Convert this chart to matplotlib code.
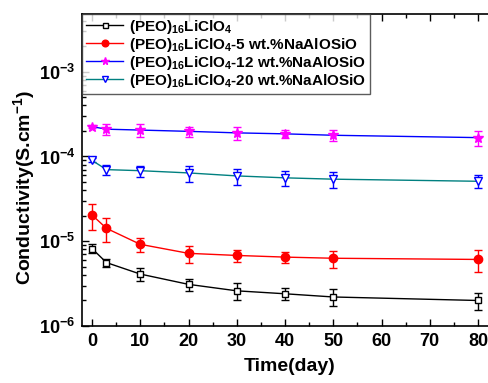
"""
Conductivity vs. time for (PEO)16LiClO4 with NaAlOSiO filler
"""

import matplotlib
matplotlib.use('Agg')
import matplotlib.pyplot as plt
from matplotlib.ticker import MultipleLocator, LogLocator

plt.rcParams['font.family'] = ['Liberation Sans', 'DejaVu Sans']
plt.rcParams['font.weight'] = 'bold'
plt.rcParams['mathtext.fontset'] = 'custom'
plt.rcParams['mathtext.rm'] = 'Liberation Sans:bold'
plt.rcParams['mathtext.bf'] = 'Liberation Sans:bold'
plt.rcParams['mathtext.it'] = 'Liberation Sans:bold'
plt.rcParams['mathtext.default'] = 'regular'

# data
days = [0, 3, 10, 20, 30, 40, 50, 80]

peo = [8.2e-6, 5.6e-6, 4.1e-6, 3.1e-6, 2.6e-6, 2.4e-6, 2.2e-6, 2.0e-6]
peo_err = [1.0e-6, 0.6e-6, 0.7e-6, 0.5e-6, 0.6e-6, 0.4e-6, 0.5e-6, 0.45e-6]

na5 = [2.04e-5, 1.42e-5, 9.2e-6, 7.2e-6, 6.8e-6, 6.5e-6, 6.3e-6, 6.1e-6]
na5_err = [7.0e-6, 4.5e-6, 1.7e-6, 1.6e-6, 1.1e-6, 1.0e-6, 1.4e-6, 1.8e-6]

na12 = [2.25e-4, 2.1e-4, 2.05e-4, 1.98e-4, 1.9e-4, 1.85e-4, 1.78e-4, 1.67e-4]
na12_err = [1.0e-5, 3.0e-5, 3.5e-5, 2.7e-5, 3.3e-5, 2.0e-5, 2.6e-5, 3.5e-5]

na20 = [9.0e-5, 7.0e-5, 6.8e-5, 6.4e-5, 5.9e-5, 5.6e-5, 5.4e-5, 5.1e-5]
na20_err = [5.0e-6, 1.0e-5, 1.0e-5, 1.4e-5, 1.3e-5, 1.1e-5, 1.2e-5, 0.9e-5]

labels = ['(PEO)$_{16}$LiClO$_4$',
          '(PEO)$_{16}$LiClO$_4$-5 wt.%NaAlOSiO',
          '(PEO)$_{16}$LiClO$_4$-12 wt.%NaAlOSiO',
          '(PEO)$_{16}$LiClO$_4$-20 wt.%NaAlOSiO']

fig = plt.figure(figsize=(4.89, 3.83), dpi=100)
ax = fig.add_axes([82.35 / 489, 57 / 383, 415 / 489, 312 / 383])

# (values, errors, line colour, marker, marker face, marker edge, error colour, size)
series = [
    (peo, peo_err, 'black', 's', 'white', 'black', 'black', 4.5),
    (na5, na5_err, 'red', 'o', 'red', 'red', 'red', 6),
    (na12, na12_err, 'blue', '*', 'magenta', 'magenta', 'magenta', 7),
    (na20, na20_err, '#008080', 'v', 'white', 'blue', 'blue', 6),
]

for (vals, errs, lc, mk, mfc, mec, ec, ms), lab in zip(series, labels):
    ax.errorbar(days, vals, yerr=errs, fmt='none', ecolor=ec, elinewidth=1,
                capsize=3, capthick=1, zorder=2)
    ax.plot(days, vals, color=lc, lw=1, marker=mk, ms=ms, mfc=mfc, mec=mec,
            mew=1, label=lab, zorder=3)

ax.set_yscale('log')
ax.set_xlim(-2, 84)
ax.set_ylim(1e-6, 4.8e-3)

ax.xaxis.set_major_locator(MultipleLocator(10))
ax.xaxis.set_minor_locator(MultipleLocator(5))
ax.yaxis.set_major_locator(LogLocator(base=10))
ax.yaxis.set_minor_locator(LogLocator(base=10, subs=range(2, 10)))

ax.tick_params(which='both', direction='in', top=True, right=True, width=1)
ax.tick_params(which='major', length=5, labelsize=13, pad=5)
ax.tick_params(which='minor', length=3)
for sp in ax.spines.values():
    sp.set_linewidth(1.2)

ax.set_xlabel('Time(day)', fontsize=14, fontweight='bold', labelpad=6)
ax.set_ylabel('Conductivity(S.cm$^{-1}$)', fontsize=14, fontweight='bold')
ax.yaxis.set_label_coords(-0.11, 0.445)

leg = ax.legend(loc='upper left', fontsize=11, frameon=True, fancybox=False,
                borderaxespad=0, handlelength=2.4, labelspacing=0.0,
                handletextpad=0.4, borderpad=0.25, markerscale=0.8)
leg.get_frame().set_edgecolor('#333333')
leg.get_frame().set_linewidth(1)

fig.savefig('out.png', dpi=100)
